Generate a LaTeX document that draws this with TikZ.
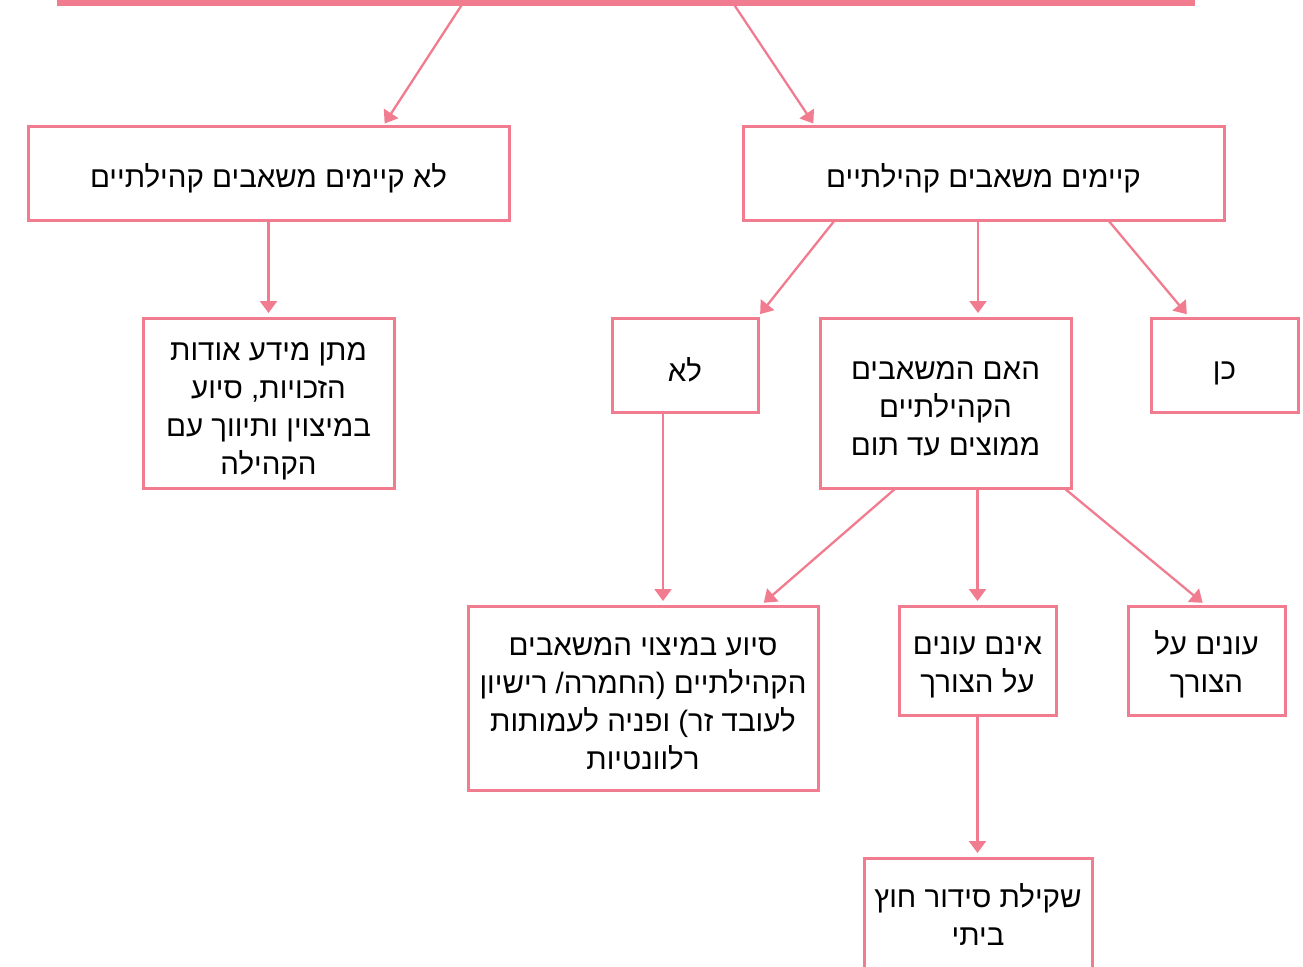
\documentclass[tikz,border=0pt]{standalone}
\usepackage{fontspec}
\usetikzlibrary{arrows.meta}
\newfontfamily\hebfont[Script=Hebrew]{Liberation Sans}
\TeXXeTstate=1
\newcommand{\hebln}[1]{\beginR #1\endR}
\definecolor{pk}{RGB}{242,124,143}
\begin{document}
\begin{tikzpicture}[x=1pt,y=-1pt,
  box/.style={draw=pk, line width=3pt, inner sep=0pt, outer sep=0pt, anchor=north west},
  txt/.style={inner sep=0pt, align=center, font=\hebfont\fontsize{29.5}{38}\selectfont},
  arr/.style={draw=pk, line width=2.3pt, -{Triangle[width=17pt,length=12pt]}, shorten >=5pt}]
\clip (0,0) rectangle (1303,966);
\fill[white] (0,0) rectangle (1303,966);
\node[draw=pk, line width=5.5pt, inner sep=0pt, outer sep=0pt, anchor=north west,
  minimum width=1132pt, minimum height=60pt] (top) at (60,-57) {};
\node[box, minimum width=481pt, minimum height=94pt] (b1) at (28,126) {};
\node[box, minimum width=481pt, minimum height=94pt] (b2) at (743,126) {};
\node[box, minimum width=251pt, minimum height=170pt] (b3) at (143,318) {};
\node[box, minimum width=146pt, minimum height=94pt] (b4) at (612,318) {};
\node[box, minimum width=251pt, minimum height=170pt] (b5) at (820,318) {};
\node[box, minimum width=147pt, minimum height=94pt] (b6) at (1151,318) {};
\node[box, minimum width=350pt, minimum height=184pt] (b7) at (468,606) {};
\node[box, minimum width=157pt, minimum height=109pt] (b8) at (899,606) {};
\node[box, minimum width=157pt, minimum height=109pt] (b9) at (1128,606) {};
\node[box, minimum width=228pt, minimum height=114pt] (b10) at (864,858) {};
\node[txt] (t1) at ([yshift=-5pt]b1.center) {\hebln{לא קיימים משאבים קהילתיים}};
\node[txt] (t2) at ([yshift=-5pt]b2.center) {\hebln{קיימים משאבים קהילתיים}};
\node[txt] (t3) at ([yshift=-8pt]b3.center)
  {\hebln{מתן מידע אודות}\\\hebln{הזכויות, סיוע}\\\hebln{במיצוין ותיווך עם}\\\hebln{הקהילה}};
\node[txt] (t4) at ([yshift=-5pt]b4.center) {\hebln{לא}};
\node[txt] (t5) at ([yshift=-6pt]b5.center)
  {\hebln{האם המשאבים}\\\hebln{הקהילתיים}\\\hebln{ממוצים עד תום}};
\node[txt] (t6) at ([yshift=-8pt]b6.center) {\hebln{כן}};
\node[txt] (t7) at ([yshift=-6pt]b7.center)
  {\hebln{סיוע במיצוי המשאבים}\\\hebln{הקהילתיים (החמרה/ רישיון}\\\hebln{לעובד זר) ופניה לעמותות}\\\hebln{רלוונטיות}};
\node[txt] (t8) at ([yshift=-7pt]b8.center) {\hebln{אינם עונים}\\\hebln{על הצורך}};
\node[txt] (t9) at ([yshift=-4pt]b9.center) {\hebln{עונים על}\\\hebln{הצורך}};
\node[txt] (t10) at ([yshift=1pt]b10.center) {\hebln{שקילת סידור חוץ}\\\hebln{ביתי}};
\draw[arr, shorten >=3pt] ([xshift=-163pt]top.south) -- ([xshift=114.5pt]b1.north);
\draw[arr, shorten >=3pt] ([xshift=107pt]top.south) -- ([xshift=-168.5pt]b2.north);
\draw[arr] (b1.south) -- (b3.north);
\draw[arr] ([xshift=-148.5pt]b2.south) -- ([xshift=-1pt]b4.north east);
\draw[arr] ([xshift=-5.5pt]b2.south) -- ([xshift=32.5pt]b5.north);
\draw[arr] ([xshift=124.5pt]b2.south) -- ([xshift=39pt]b6.north west);
\draw[arr] ([xshift=-22pt]b4.south) -- ([xshift=20pt]b7.north);
\draw[arr] ([xshift=-49.5pt]b5.south) -- ([xshift=-58pt]b7.north east);
\draw[arr] ([xshift=32pt]b5.south) -- (b8.north);
\draw[arr] ([xshift=118.5pt]b5.south) -- (b9.north);
\draw[arr] (b8.south) -- ([xshift=-0.5pt]b10.north);
\end{tikzpicture}
\end{document}
